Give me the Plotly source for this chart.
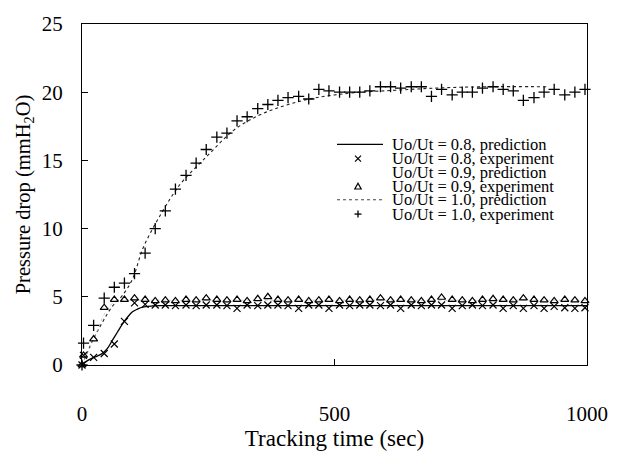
import plotly.graph_objects as go

# ---- data ----
exp_time = [0, 3, 23, 44, 64, 84, 104, 125, 145, 165, 185, 206, 226, 246, 267, 287, 307, 327, 348, 368, 388,
            408, 429, 449, 469, 489, 510, 530, 550, 570, 591, 611, 631, 652, 672, 692, 712, 733, 753, 773,
            793, 814, 834, 854, 874, 895, 915, 935, 956, 976, 996]
exp_08 = [0, 0.7, 0.56, 0.84, 1.54, 3.2, 4.55, 4.45, 4.4, 4.4, 4.35, 4.4, 4.35, 4.4, 4.4, 4.35, 4.15, 4.4,
          4.35, 4.4, 4.4, 4.35, 4.15, 4.4, 4.4, 4.15, 4.4, 4.35, 4.4, 4.4, 4.35, 4.4, 4.15, 4.4, 4.35, 4.4,
          4.4, 4.15, 4.35, 4.4, 4.35, 4.4, 4.15, 4.35, 4.15, 4.35, 4.15, 4.3, 4.2, 4.15, 4.2]
exp_09 = [0, 0.7, 1.9, 4.2, 4.8, 4.8, 4.9, 4.8, 4.7, 4.75, 4.7, 4.8, 4.75, 4.9, 4.8, 4.75, 4.8, 4.7, 4.85,
          5.0, 4.8, 4.75, 4.8, 4.7, 4.75, 4.8, 4.7, 4.8, 4.75, 4.8, 4.9, 4.75, 4.8, 4.75, 4.7, 4.8, 4.95,
          4.8, 4.75, 4.7, 4.8, 4.85, 4.8, 4.75, 4.9, 4.8, 4.75, 4.7, 4.8, 4.75, 4.7]
exp_10 = [0, 1.6, 2.9, 4.9, 5.7, 6.0, 6.7, 8.2, 10.0, 11.3, 12.9, 13.9, 14.8, 15.8, 16.7, 17.0, 17.9, 18.2,
          18.8, 19.1, 19.4, 19.6, 19.7, 19.5, 20.2, 20.1, 20.0, 20.0, 20.0, 20.1, 20.4, 20.4, 20.3, 20.4,
          20.4, 19.7, 20.2, 19.8, 20.0, 20.0, 20.3, 20.4, 20.2, 20.1, 19.4, 19.6, 20.0, 20.2, 19.8, 20.0, 20.2]

pred_t_08 = [0, 10, 20, 30, 40, 50, 60, 70, 80, 90, 100, 110, 120, 140, 160, 200, 1000]
pred_08 = [0, 0.3, 0.5, 0.65, 0.85, 1.2, 1.8, 2.4, 3.0, 3.5, 3.9, 4.1, 4.25, 4.33, 4.35, 4.35, 4.35]
pred_t_09 = [0, 10, 20, 30, 40, 50, 60, 70, 80, 100, 150, 1000]
pred_09 = [0, 0.8, 1.6, 2.5, 3.4, 4.1, 4.5, 4.7, 4.75, 4.75, 4.75, 4.75]
pred_t_10 = [0, 20, 40, 60, 80, 100, 120, 140, 160, 180, 200, 250, 300, 350, 400, 450, 500, 550, 600, 700, 800, 920]
pred_10 = [0, 1.7, 3.1, 4.3, 5.1, 6.3, 8.5, 10.0, 11.3, 12.5, 13.5, 15.4, 17.2, 18.3, 19.0, 19.5, 19.8, 20.0,
           20.1, 20.3, 20.4, 20.4]

legend_labels = ["Uo/Ut = 0.8, prediction", "Uo/Ut = 0.8, experiment", "Uo/Ut = 0.9, prediction",
                 "Uo/Ut = 0.9, experiment", "Uo/Ut = 1.0, prediction", "Uo/Ut = 1.0, experiment"]

FONT = "Liberation Serif"
W, H = 620, 457
ML, MR, MT, MB = 82, 33, 17, 83
PW, PH = W - ML - MR, H - MT - MB

fig = go.Figure()
fig.add_trace(go.Scatter(x=pred_t_10, y=pred_10, mode="lines", line=dict(color="#222", width=1.1, dash="dot", shape="spline"),
                         name=legend_labels[4]))
fig.add_trace(go.Scatter(x=pred_t_09, y=pred_09, mode="lines", line=dict(color="#bbb", width=0.8, dash="dot", shape="spline"),
                         name=legend_labels[2]))
fig.add_trace(go.Scatter(x=pred_t_08, y=pred_08, mode="lines", line=dict(color="black", width=1.3, shape="spline"),
                         name=legend_labels[0]))
fig.add_trace(go.Scatter(x=exp_time, y=exp_08, mode="markers", cliponaxis=False,
                         marker=dict(symbol="x-thin-open", color="black", size=7, line=dict(color="black", width=1.2)),
                         name=legend_labels[1]))
fig.add_trace(go.Scatter(x=exp_time, y=exp_09, mode="markers", cliponaxis=False,
                         marker=dict(symbol="triangle-up-open", color="black", size=7, line=dict(color="black", width=1.2)),
                         name=legend_labels[3]))
fig.add_trace(go.Scatter(x=exp_time, y=exp_10, mode="markers", cliponaxis=False,
                         marker=dict(symbol="cross-thin-open", color="black", size=8, line=dict(color="black", width=1.3)),
                         name=legend_labels[5]))

def px2paper(px, py):
    return (px - ML) / PW, (H - MB - py) / PH

rows_py = [143, 158, 172, 187, 201, 216]
shapes = []
annotations = []
for i, lab in enumerate(legend_labels):
    tx, ty = px2paper(390, rows_py[i])
    annotations.append(dict(x=tx, y=ty, xref="paper", yref="paper", text=lab, showarrow=False,
                            xanchor="left", yanchor="middle", font=dict(family=FONT, size=16.5, color="black")))
ax_, ay_ = px2paper(358, rows_py[0])
shapes.append(dict(type="line", xref="paper", yref="paper", xsizemode="pixel", ysizemode="pixel",
                   xanchor=ax_, yanchor=ay_, x0=-21, x1=25, y0=0, y1=0, line=dict(color="black", width=1.3)))
ax_, ay_ = px2paper(358, rows_py[1])
for (a, b) in [((-3, -3), (3, 3)), ((-3, 3), (3, -3))]:
    shapes.append(dict(type="line", xref="paper", yref="paper", xsizemode="pixel", ysizemode="pixel",
                       xanchor=ax_, yanchor=ay_, x0=a[0], y0=a[1], x1=b[0], y1=b[1], line=dict(color="black", width=1.2)))
ax_, ay_ = px2paper(358, rows_py[3])
shapes.append(dict(type="path", xref="paper", yref="paper", xsizemode="pixel", ysizemode="pixel",
                   xanchor=ax_, yanchor=ay_, path="M -3.2 -2.6 L 3.2 -2.6 L 0 3.2 Z", line=dict(color="black", width=1.2)))
ax_, ay_ = px2paper(358, rows_py[4])
shapes.append(dict(type="line", xref="paper", yref="paper", xsizemode="pixel", ysizemode="pixel",
                   xanchor=ax_, yanchor=ay_, x0=-21, x1=25, y0=0, y1=0, line=dict(color="#444", width=1, dash="dot")))
ax_, ay_ = px2paper(358, rows_py[5])
for (a, b) in [((-3.5, 0), (3.5, 0)), ((0, -3.5), (0, 3.5))]:
    shapes.append(dict(type="line", xref="paper", yref="paper", xsizemode="pixel", ysizemode="pixel",
                       xanchor=ax_, yanchor=ay_, x0=a[0], y0=a[1], x1=b[0], y1=b[1], line=dict(color="black", width=1.3)))

fig.update_layout(
    width=W, height=H, margin=dict(l=ML, r=MR, t=MT, b=MB),
    paper_bgcolor="white", plot_bgcolor="white", showlegend=False,
    font=dict(family=FONT, color="black", size=21),
    shapes=shapes, annotations=annotations,
    xaxis=dict(range=[0, 1000], tickvals=[0, 500, 1000], ticks="inside", ticklen=6, tickcolor="black",
               showline=True, linecolor="black", linewidth=1.3, mirror=True, showgrid=False, zeroline=False,
               tickfont=dict(family=FONT, size=21), ticklabelstandoff=30,
               title=dict(text="Tracking time (sec)", font=dict(family=FONT, size=23), standoff=3)),
    yaxis=dict(range=[0, 25], tickvals=[0, 5, 10, 15, 20, 25], ticks="inside", ticklen=6, tickcolor="black",
               showline=True, linecolor="black", linewidth=1.3, mirror=True, showgrid=False, zeroline=False,
               tickfont=dict(family=FONT, size=21), ticklabelstandoff=14,
               title=dict(text="Pressure drop (mmH<sub>2</sub>O)", font=dict(family=FONT, size=20.5), standoff=5)),
)

fig.write_html("out.html")
